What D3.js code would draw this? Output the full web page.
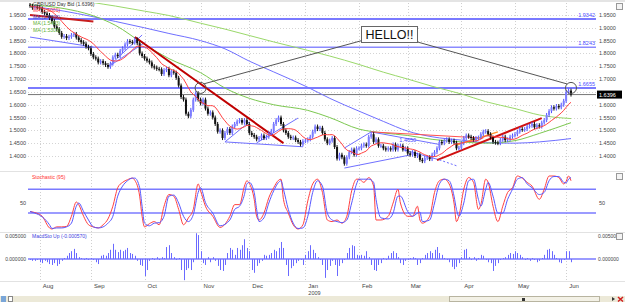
<!DOCTYPE html>
<html>
<head>
<meta charset="utf-8">
<script src="https://cdn.jsdelivr.net/npm/d3@7"></script>
<style>
  body { margin: 0; background: #fff; }
  svg { display: block; font-family: "Liberation Sans", Arial, sans-serif; }
</style>
</head>
<body>
<svg id="chart" width="625" height="302"></svg>
<script>
// GBP/USD daily closes, 28 Jul 2008 - 3 Jun 2009 (one per weekday)
const firstOpen = 1.9900
const closes = [
  1.9860, 1.9780, 1.9820, 1.9790,
  1.9760,
  1.9620, 1.9560, 1.9500, 1.9380, 1.9260,
  1.9050, 1.8950, 1.8800, 1.8650, 1.8680,
  1.8600, 1.8650, 1.8720, 1.8760, 1.8620,
  1.8520, 1.8440, 1.8380, 1.8260, 1.8200,
  1.7980, 1.7850, 1.7800, 1.7650, 1.7700,
  1.7620, 1.7550, 1.7480, 1.7600, 1.7850,
  1.7950, 1.7900, 1.8100, 1.8200, 1.8350,
  1.8480, 1.8450, 1.8420, 1.8550, 1.8400,
  1.8000, 1.7900,
  1.7800, 1.7720, 1.7650,
  1.7500, 1.7450, 1.7400, 1.7380, 1.7200,
  1.7350, 1.7400, 1.7150, 1.7300, 1.7250,
  1.7050, 1.6750, 1.6300, 1.6200, 1.5650,
  1.5550, 1.5800, 1.6200, 1.6450, 1.6200,
  1.6050, 1.6200, 1.5850, 1.5650, 1.5700,
  1.5500, 1.5250, 1.4950, 1.5000, 1.4700,
  1.4900, 1.5050, 1.4900, 1.5150, 1.5250,
  1.5350, 1.5400, 1.5300, 1.5400, 1.5250,
  1.4900, 1.4820, 1.4750, 1.4650, 1.4700,
  1.4800, 1.4700, 1.4750, 1.4880, 1.4980,
  1.5250, 1.5400, 1.5500, 1.5250, 1.5000,
  1.4900, 1.4750, 1.4700, 1.4720, 1.4620,
  1.4550, 1.4450, 1.4580,
  1.4600, 1.4650,
  1.4750, 1.4950, 1.5150, 1.5050, 1.5100,
  1.4900, 1.4650, 1.4500, 1.4600, 1.4700,
  1.4350, 1.3900, 1.4050, 1.3950, 1.3700,
  1.3950, 1.4150, 1.4250, 1.4050, 1.4300,
  1.4300, 1.4400, 1.4450, 1.4400, 1.4750,
  1.4850, 1.4550, 1.4650, 1.4400, 1.4400,
  1.4300, 1.4250, 1.4300, 1.4250, 1.4450,
  1.4250, 1.4400, 1.4400, 1.4250, 1.4300,
  1.4100, 1.4050, 1.4150, 1.4000, 1.4050,
  1.3850, 1.3800, 1.3920, 1.3950, 1.3880,
  1.4050, 1.4150, 1.4300, 1.4550, 1.4500,
  1.4600, 1.4650, 1.4550, 1.4600, 1.4520,
  1.4300, 1.4320,
  1.4500, 1.4700, 1.4800,
  1.4750, 1.4700, 1.4620, 1.4700, 1.4720,
  1.4850, 1.4950, 1.4970, 1.4850, 1.4720,
  1.4550, 1.4520, 1.4500, 1.4630, 1.4750,
  1.4620, 1.4650, 1.4750, 1.4800,
  1.4850,
  1.4950, 1.5050, 1.5020, 1.5050, 1.5150,
  1.5180, 1.5250, 1.5120, 1.5200, 1.5150,
  1.5300, 1.5400, 1.5600, 1.5750, 1.5900,
  1.5850, 1.5950, 1.5900, 1.6000, 1.6150,
  1.6500, 1.6550, 1.6396
]
const shortMaDays = 10

const priceTicks = [1.40, 1.45, 1.50, 1.55, 1.60, 1.65, 1.70, 1.75, 1.80, 1.85, 1.90, 1.95]
const levelLines = [1.9342, 1.8243, 1.6655]
const lastPrice = 1.6396

// moving averages
const maDates = ["2008-07-28", "2008-08-15", "2008-09-01", "2008-09-15", "2008-10-01", "2008-10-15",
  "2008-11-03", "2008-11-17", "2008-12-01", "2008-12-15", "2009-01-02", "2009-01-15", "2009-02-02",
  "2009-02-16", "2009-03-02", "2009-03-16", "2009-04-01", "2009-04-15", "2009-05-01", "2009-05-15", "2009-06-03"]
const maLong = [2.030, 2.020, 2.000, 1.985, 1.965, 1.948, 1.918, 1.895, 1.870, 1.845, 1.812, 1.790, 1.757,
  1.727, 1.700, 1.672, 1.642, 1.612, 1.585, 1.560, 1.546]
const maMid = [1.985, 1.965, 1.945, 1.925, 1.900, 1.878, 1.850, 1.818, 1.770, 1.728, 1.668, 1.625, 1.575,
  1.535, 1.497, 1.475, 1.462, 1.452, 1.450, 1.455, 1.468]
const maShort = [1.990, 1.975, 1.950, 1.910, 1.835, 1.780, 1.725, 1.665, 1.625, 1.600, 1.578, 1.550, 1.505,
  1.490, 1.480, 1.465, 1.455, 1.450, 1.460, 1.488, 1.530]

const legendLines = ["GBP/USD Day Bid (1.6396)", "MA (1.6001)", "MA (1.4706)", "MA (1.5463)", "MA (1.5303)"]

// hand drawn trend lines: [from, price, to, price, colour, width]
const trendLines = [
  ["2008-07-28", 1.950, "2008-09-02", 1.925, "#c81e1e", 2],
  ["2008-07-28", 1.864, "2008-09-02", 1.825, "#7070ff", 1],
  ["2008-09-10", 1.747, "2008-09-30", 1.872, "#7070ff", 1],
  ["2008-09-10", 1.747, "2008-10-01", 1.842, "#7070ff", 1],
  ["2008-09-25", 1.864, "2008-12-19", 1.450, "#c00000", 2],
  ["2008-11-17", 1.455, "2008-12-31", 1.436, "#7070ff", 1],
  ["2008-11-17", 1.455, "2008-12-01", 1.533, "#7070ff", 1],
  ["2008-12-04", 1.451, "2008-12-29", 1.548, "#7070ff", 1],
  ["2009-01-23", 1.353, "2009-03-03", 1.404, "#7070ff", 1],
  ["2009-01-23", 1.431, "2009-02-09", 1.494, "#7070ff", 1],
  ["2009-02-09", 1.494, "2009-03-19", 1.445, "#7070ff", 1],
  ["2009-02-26", 1.425, "2009-03-19", 1.385, "#7070ff", 1],
  ["2009-02-09", 1.494, "2009-04-14", 1.470, "#ff5050", 1],
  ["2009-03-18", 1.384, "2009-05-18", 1.548, "#d01010", 2],
  ["2009-03-30", 1.443, "2009-04-22", 1.494, "#ff9933", 1.5]
]
const dottedLine = ["2009-03-19", 1.385, "2009-03-30", 1.362]
const channelLabel = ["2009-03-03", 1.4650]

// stochastic samples
const stochDay = [0, 2, 5, 8, 9, 11, 13, 15, 17, 19, 20, 22, 24, 26, 28, 30, 32, 34, 36, 38, 40, 42, 43, 45, 46,
  47, 49, 51, 53, 55, 57, 59, 61, 63, 65, 67, 69, 70, 72, 75, 78, 82, 84, 86, 88, 89, 90, 92, 93, 94, 96, 98,
  100, 102, 103, 104, 106, 108, 110, 112, 114, 116, 118, 120, 122, 124, 126, 128, 130, 132, 134, 135, 137,
  139, 141, 142, 144, 147, 149, 151, 152, 155, 157, 159, 160, 161, 164, 166, 168, 170, 172, 174, 175, 176,
  178, 180, 182, 184, 185, 187, 188, 190, 192, 194, 196, 198, 200, 202, 204, 206, 209, 211, 213, 215, 217,
  219, 220, 221, 222]
const stochK = [33, 31, 24, 2, 0, 4, 4, 5, 24, 51, 46, 24, 8, 4, 2, 8, 19, 43, 78, 88, 93, 96, 92, 62, 24,
  4, 10, 14, 8, 43, 65, 62, 37, 8, 21, 37, 85, 72, 43, 24, 3, 24, 46, 46, 81, 91, 86, 56, 24, 17, 30, 59,
  78, 92, 94, 56, 30, 8, 0, 8, 53, 85, 94, 69, 17, 14, 17, 11, 24, 72, 94, 94, 88, 97, 81, 17, 17, 24, 49,
  75, 49, 24, 24, 43, 17, 11, 24, 69, 91, 94, 85, 49, 14, 24, 75, 97, 88, 37, 46, 94, 88, 43, 14, 43, 69,
  78, 100, 96, 88, 81, 56, 75, 100, 100, 97, 85, 90, 100, 91]
const stochD = [33, 30, 23, 8, 1, 2, 2, 4, 11, 43, 49, 33, 17, 4, 2, 4, 11, 24, 62, 81, 91, 96, 96, 78, 43,
  11, 6, 11, 12, 24, 62, 64, 49, 24, 14, 27, 69, 78, 50, 30, 6, 17, 37, 43, 65, 85, 88, 69, 37, 14, 21, 49,
  72, 88, 91, 75, 37, 11, 1, 2, 24, 69, 91, 81, 30, 17, 14, 12, 17, 49, 85, 94, 94, 94, 88, 56, 21, 19, 30,
  62, 62, 33, 24, 30, 32, 14, 17, 49, 85, 94, 91, 62, 37, 24, 49, 91, 94, 56, 43, 75, 88, 62, 30, 30, 56,
  75, 94, 97, 85, 78, 65, 69, 91, 99, 99, 88, 87, 94, 97]
const stochLevels = [75, 30]

// MacdSto histogram, one bar per day
const macd = [
  -0.0002, -0.0004, -0.0004, -0.0002, -0.0007, -0.0009, -0.0004, -0.0007, -0.0011, -0.0013,
  -0.0009, -0.0015, -0.0011, -0.0004, 0.0002, 0.0007, 0.0013, 0.0017, 0.0022, 0.0013,
  0.0004, 0.0002, -0.0002, 0.0002, -0.0002, 0.0002, -0.0002, -0.0007, -0.0011, 0.0007,
  0.0009, 0.0007, 0.0013, 0.0020, 0.0033, 0.0020, 0.0015, 0.0020, 0.0017, 0.0020,
  0.0024, 0.0013, 0.0011, 0.0007, -0.0004, -0.0013, -0.0015, -0.0037, -0.0024, -0.0004,
  0.0002, -0.0002, 0.0004, -0.0002, 0.0004, 0.0002, 0.0026, 0.0030, 0.0013, 0.0004,
  -0.0002, 0.0002, -0.0024, -0.0046, -0.0024, -0.0020, -0.0024, -0.0007, 0.0056, 0.0052,
  0.0017, -0.0009, -0.0013, 0.0004, -0.0007, 0.0004, -0.0004, -0.0015, -0.0024, -0.0026,
  -0.0013, 0.0013, 0.0024, 0.0020, 0.0009, 0.0024, 0.0020, 0.0030, 0.0043, 0.0024,
  0.0017, -0.0024, -0.0030, -0.0015, -0.0009, -0.0004, 0.0009, 0.0007, 0.0009, 0.0013,
  0.0020, 0.0017, 0.0024, 0.0037, 0.0024, -0.0013, -0.0037, -0.0020, -0.0015, -0.0009,
  -0.0004, -0.0002, -0.0013, 0.0009, 0.0017, 0.0030, 0.0020, 0.0013, 0.0004, -0.0002,
  -0.0013, -0.0041, -0.0024, -0.0015, -0.0004, -0.0013, -0.0037, -0.0015, -0.0009, -0.0002,
  0.0013, 0.0024, 0.0030, 0.0028, 0.0009, 0.0007, 0.0009, 0.0007, 0.0017, 0.0004,
  -0.0013, -0.0024, -0.0026, -0.0013, -0.0009, 0.0002, -0.0002, 0.0007, 0.0013, 0.0017,
  0.0013, 0.0004, -0.0009, -0.0013, -0.0004, -0.0002, 0.0002, 0.0004, 0.0002, -0.0013,
  -0.0009, 0.0002, 0.0009, 0.0013, 0.0017, 0.0013, 0.0020, 0.0026, 0.0013, 0.0009,
  0.0002, -0.0002, -0.0007, -0.0017, -0.0022, -0.0017, -0.0009, 0.0004, 0.0020, 0.0022,
  0.0004, -0.0002, 0.0004, -0.0004, 0.0002, 0.0009, 0.0007, -0.0002, -0.0007, -0.0009,
  -0.0026, -0.0015, -0.0009, -0.0002, 0.0002, 0.0004, 0.0009, 0.0013, 0.0011, 0.0017,
  0.0013, 0.0009, 0.0004, -0.0002, 0.0002, -0.0004, 0.0002, -0.0002, -0.0007, -0.0004,
  0.0002, 0.0009, 0.0020, 0.0022, 0.0017, 0.0009, 0.0002, -0.0007, -0.0009, -0.0002,
  0.0017, 0.0017, -0.0007
]
const macdTicks = [0, 0.005]
const monthLabels = ["Aug", "Sep", "Oct", "Nov", "Dec", "Jan", "Feb", "Mar", "Apr", "May", "Jun"]

const svg = d3.select("#chart")
const fmt = d3.timeFormat("%Y-%m-%d")
const days = d3.timeDay.range(new Date(2008, 6, 28), new Date(2009, 5, 4))
  .filter(d => d.getDay() !== 0 && d.getDay() !== 6)
const dayIndex = new Map(days.map((d, i) => [fmt(d), i]))

const plotLeft = 28, plotRight = 596
const x = d3.scaleLinear().domain([0, days.length - 1]).range([30, 571])
const xd = s => x(dayIndex.get(s))
const y = d3.scaleLinear().domain([1.40, 1.95]).range([156, 15])
const ys = d3.scaleLinear().domain([0, 100]).range([229, 176])
const ym = d3.scaleLinear().domain([0, 0.005]).range([259, 236])

const blue = "#6b6bff"
const labelColor = "#444"
const small = "5.5px"

// panels
svg.append("rect").attr("width", 625).attr("height", 302).attr("fill", "#fff")
svg.append("rect").attr("x", 0).attr("y", 0).attr("width", 625).attr("height", 2).attr("fill", "#e4e4e4")
;[171, 232, 281].forEach(py => {
  svg.append("line")
    .attr("x1", 0).attr("x2", 625).attr("y1", py + 0.5).attr("y2", py + 0.5)
    .attr("stroke", "#e2e2e2")
})

// month grid + labels
const monthStarts = days.map((d, i) => i).filter(i => i > 0 && days[i].getMonth() !== days[i - 1].getMonth())
monthStarts.forEach((i, k) => {
  svg.append("line")
    .attr("x1", Math.round(x(i)) + 0.5).attr("x2", Math.round(x(i)) + 0.5)
    .attr("y1", 3).attr("y2", 281)
    .attr("stroke", "#cfcfcf")
    .attr("stroke-dasharray", "1,2")
  svg.append("text")
    .attr("x", x(i) + 3).attr("y", 287.5)
    .style("font-size", "6px").attr("fill", labelColor)
    .text(monthLabels[k])
  if (monthLabels[k] === "Jan") {
    svg.append("text")
      .attr("x", x(i) + 3).attr("y", 294.5)
      .style("font-size", "5.5px").attr("fill", labelColor)
      .text("2009")
  }
})

// price grid + axis labels
priceTicks.forEach(v => {
  svg.append("line")
    .attr("x1", plotLeft).attr("x2", plotRight)
    .attr("y1", Math.round(y(v)) + 0.5).attr("y2", Math.round(y(v)) + 0.5)
    .attr("stroke", "#d4d4d4").attr("stroke-dasharray", "1,2")
  svg.append("text").attr("x", 26).attr("y", y(v) + 2)
    .attr("text-anchor", "end").style("font-size", small).attr("fill", labelColor)
    .text(v.toFixed(4))
  if (Math.abs(y(v) - y(lastPrice)) > 6) {
    svg.append("text").attr("x", 599).attr("y", y(v) + 2)
      .style("font-size", small).attr("fill", labelColor)
      .text(v.toFixed(4))
  }
})

svg.append("clipPath").attr("id", "priceClip")
  .append("rect").attr("x", plotLeft).attr("y", 3).attr("width", plotRight - plotLeft).attr("height", 167)
const g = svg.append("g").attr("clip-path", "url(#priceClip)")

// level lines
levelLines.forEach((v, i) => {
  g.append("line")
    .attr("x1", plotLeft).attr("x2", plotRight).attr("y1", y(v)).attr("y2", y(v))
    .attr("stroke", i === 1 ? "#8a8aff" : "#7a7aff")
    .attr("stroke-width", i === 1 ? 1.5 : 2)
  svg.append("text").attr("x", 595).attr("y", y(v) - 2)
    .attr("text-anchor", "end").style("font-size", small).attr("fill", "#4b4bff")
    .text(v.toFixed(4))
})
g.append("line")
  .attr("x1", plotLeft).attr("x2", plotRight).attr("y1", y(lastPrice)).attr("y2", y(lastPrice))
  .attr("stroke", "#777").attr("stroke-width", 1)

// moving averages
const maLine = d3.line().x(d => xd(d[0])).y(d => y(d[1])).curve(d3.curveMonotoneX)
const maSeries = [[maLong, "#9ad86a"], [maMid, "#6f6fff"], [maShort, "#7cc850"]]
maSeries.forEach(([vals, color]) => {
  g.append("path")
    .datum(maDates.map((d, i) => [d, vals[i]]))
    .attr("d", maLine)
    .attr("fill", "none").attr("stroke", color).attr("stroke-width", 1)
})

// trend lines
trendLines.forEach(([d1, p1, d2, p2, color, w]) => {
  g.append("line")
    .attr("x1", xd(d1)).attr("y1", y(p1)).attr("x2", xd(d2)).attr("y2", y(p2))
    .attr("stroke", color).attr("stroke-width", w)
})
g.append("line")
  .attr("x1", xd(dottedLine[0])).attr("y1", y(dottedLine[1]))
  .attr("x2", xd(dottedLine[2])).attr("y2", y(dottedLine[3]))
  .attr("stroke", blue).attr("stroke-dasharray", "2,2")
svg.append("text")
  .attr("x", xd(channelLabel[0]) + 6).attr("y", y(channelLabel[1]) + 3)
  .attr("text-anchor", "end").style("font-size", small).attr("fill", "#4b4bff")
  .text(channelLabel[1].toFixed(4))

// candles
const candles = closes.map((c, i) => ({ i, o: i ? closes[i - 1] : firstOpen, c }))
const cg = g.append("g")
cg.selectAll("line.wick").data(candles).join("line")
  .attr("class", "wick")
  .attr("x1", d => x(d.i)).attr("x2", d => x(d.i))
  .attr("y1", d => y(Math.max(d.o, d.c)) - 2).attr("y2", d => y(Math.min(d.o, d.c)) + 2)
  .attr("stroke", d => d.c >= d.o ? "#5050ff" : "#111")
cg.selectAll("rect.body").data(candles).join("rect")
  .attr("class", "body")
  .attr("x", d => x(d.i) - 1).attr("width", 2)
  .attr("y", d => y(Math.max(d.o, d.c)))
  .attr("height", d => Math.max(1, Math.abs(y(d.o) - y(d.c))))
  .attr("fill", d => d.c >= d.o ? "#7d7dff" : "#111")

// short moving average from the closes
const sma = closes.map((c, i) => d3.mean(closes.slice(Math.max(0, i - shortMaDays + 1), i + 1)))
g.append("path")
  .datum(sma)
  .attr("d", d3.line().x((d, i) => x(i)).y(d => y(d)))
  .attr("fill", "none").attr("stroke", "#ff4040").attr("stroke-width", 1)

// annotation
const circles = [["2008-11-03", 1.6655], ["2009-06-03", 1.6655]]
circles.forEach(([d, v]) => {
  g.append("circle").attr("cx", xd(d)).attr("cy", y(v)).attr("r", 5.5)
    .attr("fill", "none").attr("stroke", "#555").attr("stroke-width", 1)
})
const box = { x: 361, y: 26, w: 56, h: 16 }
svg.append("line")
  .attr("x1", xd(circles[0][0]) + 3).attr("y1", y(circles[0][1]) - 4)
  .attr("x2", box.x + 3).attr("y2", box.y + box.h - 2)
  .attr("stroke", "#555")
svg.append("line")
  .attr("x1", xd(circles[1][0]) - 4).attr("y1", y(circles[1][1]) - 4)
  .attr("x2", box.x + box.w - 3).attr("y2", box.y + box.h - 1)
  .attr("stroke", "#555")
svg.append("rect").attr("x", box.x + 0.5).attr("y", box.y + 0.5).attr("width", box.w).attr("height", box.h)
  .attr("fill", "#fff").attr("stroke", "#666")
svg.append("text").attr("x", box.x + box.w / 2 + 0.5).attr("y", box.y + 13)
  .attr("text-anchor", "middle").style("font-size", "12.5px").attr("fill", "#111")
  .text("HELLO!!")

// last price tag
svg.append("rect").attr("x", 597).attr("y", y(lastPrice) - 4).attr("width", 25).attr("height", 8).attr("fill", "#000")
svg.append("text").attr("x", 599).attr("y", y(lastPrice) + 2)
  .style("font-size", small).attr("fill", "#fff").text(lastPrice.toFixed(4))

// legend
const legendColors = ["#333", "#ff3030", "#4040c0", "#5cb030", "#5cb030"]
legendLines.forEach((t, i) => {
  svg.append("text").attr("x", 33).attr("y", 5.5 + i * 6.5)
    .style("font-size", "5px").attr("fill", legendColors[i]).text(t)
})

// stochastic panel
stochLevels.forEach(v => {
  svg.append("line").attr("x1", plotLeft).attr("x2", plotRight)
    .attr("y1", ys(v)).attr("y2", ys(v)).attr("stroke", "#7a7aff").attr("stroke-width", 1.5)
})
svg.append("text").attr("x", 26).attr("y", ys(50) + 2).attr("text-anchor", "end")
  .style("font-size", small).attr("fill", labelColor).text("50")
svg.append("text").attr("x", 599).attr("y", ys(50) + 2)
  .style("font-size", small).attr("fill", labelColor).text("50")
const stochLine = d3.line().x(d => x(d[0])).y(d => ys(d[1])).curve(d3.curveMonotoneX)
svg.append("path").datum(stochDay.map((d, i) => [d, stochK[i]])).attr("d", stochLine)
  .attr("fill", "none").attr("stroke", "#ff4040").attr("stroke-width", 1)
svg.append("path").datum(stochDay.map((d, i) => [d, stochD[i]])).attr("d", stochLine)
  .attr("fill", "none").attr("stroke", "#5858ff").attr("stroke-width", 1)
svg.append("text").attr("x", 32).attr("y", 178.5).style("font-size", "5px").attr("fill", "#ff3030")
  .text("Stochastic (95)")

// MACD panel
svg.append("line").attr("x1", plotLeft).attr("x2", plotRight)
  .attr("y1", ym(0)).attr("y2", ym(0)).attr("stroke", "#7a7aff").attr("stroke-width", 1.5)
svg.selectAll("line.macd").data(macd).join("line")
  .attr("class", "macd")
  .attr("x1", (d, i) => Math.round(x(i)) + 0.5).attr("x2", (d, i) => Math.round(x(i)) + 0.5)
  .attr("y1", ym(0)).attr("y2", d => ym(d))
  .attr("stroke", "#6a6aff").attr("stroke-width", 1)
macdTicks.forEach(v => {
  svg.append("text").attr("x", 26).attr("y", ym(v) + 2).attr("text-anchor", "end")
    .style("font-size", "5px").attr("fill", labelColor).text(v.toFixed(6))
  svg.append("text").attr("x", 598).attr("y", ym(v) + 2)
    .style("font-size", "5px").attr("fill", labelColor).text(v.toFixed(6))
})
svg.append("text").attr("x", 32).attr("y", 238).style("font-size", "5px").attr("fill", "#4040e0")
  .text("MacdSto Up (-0.000570)")

// panel close boxes
;[3, 173, 233].forEach(by => {
  svg.append("rect").attr("x", 616.5).attr("y", by + 0.5).attr("width", 6).attr("height", 6)
    .attr("fill", "#f4f4f4").attr("stroke", "#999")
})

// bottom scroll bar
svg.append("rect").attr("x", 0).attr("y", 296).attr("width", 625).attr("height", 6).attr("fill", "#ece9d8")
svg.append("rect").attr("x", 449.5).attr("y", 296.5).attr("width", 150).attr("height", 5)
  .attr("fill", "#f3f1e6").attr("stroke", "#b8b4a0")
svg.append("rect").attr("x", 522).attr("y", 298).attr("width", 3).attr("height", 3).attr("fill", "#333")
svg.append("rect").attr("x", 1).attr("y", 296).attr("width", 5).attr("height", 6).attr("fill", "#7aa6d8")
svg.append("rect").attr("x", 8.5).attr("y", 296.5).attr("width", 4).attr("height", 5).attr("fill", "#fff").attr("stroke", "#888")
svg.append("path").attr("d", "M612,297 L615,299 L612,301 Z").attr("fill", "#333")
svg.append("path").attr("d", "M618,297 L623,301.5 M623,297 L618,301.5")
  .attr("stroke", "#d02020").attr("stroke-width", 1.5)
</script>
</body>
</html>
